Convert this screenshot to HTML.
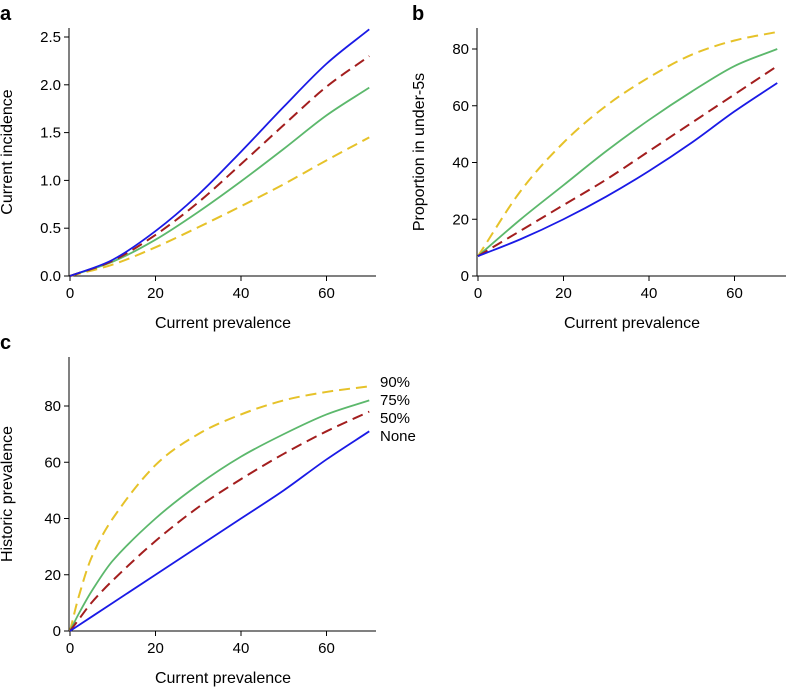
<!DOCTYPE html>
<html><head><meta charset="utf-8"><style>
body{margin:0;background:#fff;font-family:"Liberation Sans",sans-serif}
svg{display:block}
</style></head><body>
<svg id="c" width="788" height="687" xmlns="http://www.w3.org/2000/svg" font-family="Liberation Sans, sans-serif"></svg>
<script>
const xVals=[0,10,20,30,40,50,60,70];
const cxVals=[0,2,5,10,20,30,40,50,60,70];
const aBlue=[0,0.17,0.47,0.85,1.30,1.77,2.22,2.58];
const aRed=[0,0.16,0.43,0.77,1.17,1.58,1.98,2.30];
const aGreen=[0,0.15,0.38,0.67,0.99,1.33,1.68,1.97];
const aYellow=[0,0.12,0.30,0.51,0.73,0.96,1.21,1.45];
const bBlue=[7,13,20,28,37,47,58,68];
const bRed=[7,16,25,34,44,54,64,74];
const bGreen=[7,20,32,44,55,65,74,80];
const bYellow=[7,30,47,60,70,78,83,86];
const cBlue=[0,2,5,10,20,30,40,50,61,71];
const cRed=[0,4,10,18,32,44,54,63,71,78];
const cGreen=[0,6,14,25,40,52,62,70,77,82];
const cYellow=[0,12,26,40,59,70,77,82,85,87];
const xTicks=[0,20,40,60];
const aTicks=[0,0.5,1,1.5,2,2.5];
const bTicks=[0,20,40,60,80];
const legendLabels=["90%","75%","50%","None"];
const svg=document.getElementById('c');
const NS='http://www.w3.org/2000/svg';
function mk(t,a,p){const e=document.createElementNS(NS,t);for(const k in a)e.setAttribute(k,a[k]);(p||svg).appendChild(e);return e;}
function path(pts){let d='M'+pts[0][0]+','+pts[0][1];for(let i=0;i<pts.length-1;i++){const p0=pts[i-1]||pts[i],p1=pts[i],p2=pts[i+1],p3=pts[i+2]||p2;
  const t1=(p2[0]-p1[0])/(p2[0]-p0[0]||1), t2=(p2[0]-p1[0])/(p3[0]-p1[0]||1);
  d+=' C'+(p1[0]+(p2[0]-p0[0])*t1/3)+','+(p1[1]+(p2[1]-p0[1])*t1/3)+' '+(p2[0]-(p3[0]-p1[0])*t2/3)+','+(p2[1]-(p3[1]-p1[1])*t2/3)+' '+p2[0]+','+p2[1];}return d;}
function panel(name,letter,lx,ox,oy,xEnd,yTop,ymax,yPix,yTicks,fmt,series,ytitle,xs){
  const g=mk('g',{});
  
  
  const X=v=>ox+v*(85.5/20), Y=v=>oy-v*yPix/ymax;
  const l=mk('text',{x:lx,y:yTop-8,'font-size':20,'font-weight':'bold'},g);l.textContent=letter;
  
  const ax=mk('path',{d:`M${ox-1},${yTop}V${oy}H${xEnd}`,stroke:'#000',fill:'none','stroke-width':1},g);
  
  xTicks.forEach(t=>{mk('line',{x1:X(t),x2:X(t),y1:oy,y2:oy+5,stroke:'#000'},g);
    const tx=mk('text',{x:X(t),y:oy+22,'font-size':15,'text-anchor':'middle'},g);tx.textContent=t;
    });
  yTicks.forEach(t=>{mk('line',{x1:ox-6,x2:ox-1,y1:Y(t),y2:Y(t),stroke:'#000'},g);
    const tx=mk('text',{x:ox-9,y:Y(t)+5,'font-size':15,'text-anchor':'end'},g);tx.textContent=fmt(t);
    });
  const xt=mk('text',{x:(ox+xEnd)/2,y:oy+52,'font-size':16,'text-anchor':'middle'},g);xt.textContent='Current prevalence';
  
  const cy=(oy+yTop)/2;
  const yt=mk('text',{x:lx+12,y:cy,'font-size':16,'text-anchor':'middle',transform:`rotate(-90 ${lx+12} ${cy})`},g);yt.textContent=ytitle;
  
  series.forEach(s=>{const p=mk('path',{d:path(xs.map((x,i)=>[X(x),Y(s.v[i])])),stroke:s.c,fill:'none','stroke-width':s.w,'stroke-dasharray':s.d||'none'},g);
    });
}
const sty=(y,g,r,b)=>[{v:y,c:'#e6c229',d:'11,6',w:2,n:'line-90pct'},{v:g,c:'#5cb86c',w:1.8,n:'line-75pct'},{v:r,c:'#a31e1e',d:'11,6',w:2,n:'line-50pct'},{v:b,c:'#1a1ae6',w:1.8,n:'line-none'}];
panel('panel-a','a',0,70,276,376,28,2.5,239,aTicks,t=>t.toFixed(1),sty(aYellow,aGreen,aRed,aBlue),'Current incidence',xVals);
panel('panel-b','b',412,478,276,786,28,80,227,bTicks,t=>t,sty(bYellow,bGreen,bRed,bBlue),'Proportion in under-5s',xVals);
panel('panel-c','c',0,70,631,376,357,80,225,bTicks,t=>t,sty(cYellow,cGreen,cRed,cBlue),'Historic prevalence',cxVals);
legendLabels.forEach((t,i)=>{const e=mk('text',{x:380,y:387+i*18,'font-size':15},svg);e.textContent=t;
  });
</script>
</body></html>
